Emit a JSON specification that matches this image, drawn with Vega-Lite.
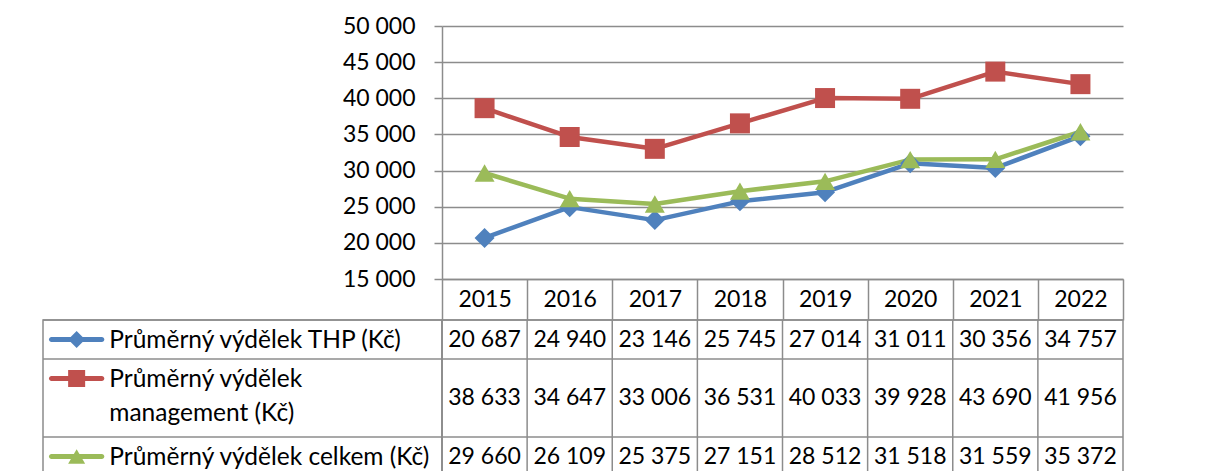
{
  "$schema": "https://vega.github.io/schema/vega-lite/v6.json",
  "padding": {"left": 41, "top": 15, "right": 0, "bottom": 0},
  "config": {
    "font": "Lato",
    "view": {"stroke": null},
    "locale": {"number": {"decimal": ",", "thousands": " ", "grouping": [3], "currency": ["", " Kč"]}},
    "text": {"fontSize": 23, "color": "#000000"}
  },
  "datasets": {
    "d": [
      {"year": 2015, "series": "Průměrný výdělek THP (Kč)", "value": 20687},
      {"year": 2016, "series": "Průměrný výdělek THP (Kč)", "value": 24940},
      {"year": 2017, "series": "Průměrný výdělek THP (Kč)", "value": 23146},
      {"year": 2018, "series": "Průměrný výdělek THP (Kč)", "value": 25745},
      {"year": 2019, "series": "Průměrný výdělek THP (Kč)", "value": 27014},
      {"year": 2020, "series": "Průměrný výdělek THP (Kč)", "value": 31011},
      {"year": 2021, "series": "Průměrný výdělek THP (Kč)", "value": 30356},
      {"year": 2022, "series": "Průměrný výdělek THP (Kč)", "value": 34757},
      {"year": 2015, "series": "Průměrný výdělek management (Kč)", "value": 38633},
      {"year": 2016, "series": "Průměrný výdělek management (Kč)", "value": 34647},
      {"year": 2017, "series": "Průměrný výdělek management (Kč)", "value": 33006},
      {"year": 2018, "series": "Průměrný výdělek management (Kč)", "value": 36531},
      {"year": 2019, "series": "Průměrný výdělek management (Kč)", "value": 40033},
      {"year": 2020, "series": "Průměrný výdělek management (Kč)", "value": 39928},
      {"year": 2021, "series": "Průměrný výdělek management (Kč)", "value": 43690},
      {"year": 2022, "series": "Průměrný výdělek management (Kč)", "value": 41956},
      {"year": 2015, "series": "Průměrný výdělek celkem (Kč)", "value": 29660},
      {"year": 2016, "series": "Průměrný výdělek celkem (Kč)", "value": 26109},
      {"year": 2017, "series": "Průměrný výdělek celkem (Kč)", "value": 25375},
      {"year": 2018, "series": "Průměrný výdělek celkem (Kč)", "value": 27151},
      {"year": 2019, "series": "Průměrný výdělek celkem (Kč)", "value": 28512},
      {"year": 2020, "series": "Průměrný výdělek celkem (Kč)", "value": 31518},
      {"year": 2021, "series": "Průměrný výdělek celkem (Kč)", "value": 31559},
      {"year": 2022, "series": "Průměrný výdělek celkem (Kč)", "value": 35372}
    ],
    "s": [
      {"series": "Průměrný výdělek THP (Kč)", "label": "Průměrný výdělek THP (Kč)"},
      {"series": "Průměrný výdělek management (Kč)", "label": "Průměrný výdělek\nmanagement (Kč)"},
      {"series": "Průměrný výdělek celkem (Kč)", "label": "Průměrný výdělek celkem (Kč)"}
    ]
  },
  "columns": 2,
  "spacing": {"row": 41, "column": 0},
  "bounds": "flush",
  "resolve": {"scale": {"x": "independent", "y": "independent", "color": "independent", "shape": "independent"}},
  "concat": [
    {
      "width": 399, "height": 253,
      "data": {"values": []},
      "mark": {"type": "point"},
      "encoding": {}
    },
    {
      "width": 681, "height": 253,
      "data": {"name": "d"},
      "encoding": {
        "x": {"field": "year", "type": "ordinal", "scale": {"paddingInner": 0, "paddingOuter": 0},
              "axis": {"title": null, "labelAngle": 0, "tickBand": "extent", "tickSize": 41, "tickColor": "#8c8c8c", "tickWidth": 1.5,
                       "domainColor": "#8c8c8c", "domainWidth": 1.5, "labelPadding": -21, "labelBaseline": "middle",
                       "labelFontSize": 23, "labelColor": "#000000", "grid": false}},
        "y": {"field": "value", "type": "quantitative", "scale": {"domain": [15000, 50000], "nice": false, "zero": false},
              "axis": {"title": null, "values": [15000, 20000, 25000, 30000, 35000, 40000, 45000, 50000], "format": ",d",
                       "tickSize": 8, "tickColor": "#8c8c8c", "tickWidth": 1.5, "domainColor": "#8c8c8c", "domainWidth": 1.5,
                       "gridColor": "#8c8c8c", "gridWidth": 1.5, "gridOpacity": 1, "labelFontSize": 23, "labelPadding": 19, "labelColor": "#000000"}},
        "color": {"field": "series", "type": "nominal",
                  "scale": {"domain": ["Průměrný výdělek THP (Kč)", "Průměrný výdělek management (Kč)", "Průměrný výdělek celkem (Kč)"],
                            "range": ["#4F81BD", "#C0504D", "#9BBB59"]}, "legend": null}
      },
      "layer": [
        {"mark": {"type": "line", "strokeWidth": 4.5, "strokeJoin": "round", "strokeCap": "round"}},
        {"mark": {"type": "point", "filled": true, "opacity": 1, "size": 400},
         "encoding": {"shape": {"field": "series", "type": "nominal",
                                "scale": {"domain": ["Průměrný výdělek THP (Kč)", "Průměrný výdělek management (Kč)", "Průměrný výdělek celkem (Kč)"],
                                          "range": ["diamond", "square", "triangle-up"]}, "legend": null}}}
      ]
    },
    {
      "width": 399, "height": 156,
      "view": {"stroke": "#8c8c8c", "strokeWidth": 1.5},
      "data": {"name": "s"},
      "layer": [
        {
          "mark": {"type": "rule", "color": "#8c8c8c", "strokeWidth": 1.5},
          "encoding": {
            "y": {"field": "series", "type": "nominal", "bandPosition": 0,
                  "scale": {"domain": ["Průměrný výdělek THP (Kč)", "Průměrný výdělek management (Kč)", "spacer", "Průměrný výdělek celkem (Kč)"], "paddingInner": 0, "paddingOuter": 0}, "axis": null}
          }
        },
        {
          "mark": {"type": "rect", "height": 5, "cornerRadius": 2.5},
          "encoding": {
            "x": {"datum": "key", "scale": {"domain": ["key", "b1", "b2", "b3", "b4", "b5", "b6"], "paddingInner": 0, "paddingOuter": 0.1085}, "axis": null},
            "y": {"field": "series", "type": "nominal",
                  "scale": {"domain": ["Průměrný výdělek THP (Kč)", "Průměrný výdělek management (Kč)", "spacer", "Průměrný výdělek celkem (Kč)"], "paddingInner": 0, "paddingOuter": 0}, "axis": null},
            "color": {"field": "series", "type": "nominal",
                      "scale": {"domain": ["Průměrný výdělek THP (Kč)", "Průměrný výdělek management (Kč)", "Průměrný výdělek celkem (Kč)"],
                                "range": ["#4F81BD", "#C0504D", "#9BBB59"]}, "legend": null}
          }
        },
        {
          "mark": {"type": "point", "filled": true, "opacity": 1, "size": 290},
          "encoding": {
            "x": {"datum": "key", "scale": {"domain": ["key", "b1", "b2", "b3", "b4", "b5", "b6"], "paddingInner": 0, "paddingOuter": 0.1085}, "axis": null},
            "y": {"field": "series", "type": "nominal",
                  "scale": {"domain": ["Průměrný výdělek THP (Kč)", "Průměrný výdělek management (Kč)", "spacer", "Průměrný výdělek celkem (Kč)"], "paddingInner": 0, "paddingOuter": 0}, "axis": null},
            "color": {"field": "series", "type": "nominal",
                      "scale": {"domain": ["Průměrný výdělek THP (Kč)", "Průměrný výdělek management (Kč)", "Průměrný výdělek celkem (Kč)"],
                                "range": ["#4F81BD", "#C0504D", "#9BBB59"]}, "legend": null},
            "shape": {"field": "series", "type": "nominal",
                      "scale": {"domain": ["Průměrný výdělek THP (Kč)", "Průměrný výdělek management (Kč)", "Průměrný výdělek celkem (Kč)"],
                                "range": ["diamond", "square", "triangle-up"]}, "legend": null}
          }
        },
        {
          "mark": {"type": "text", "align": "left", "baseline": "middle", "dx": 5, "dy": 1, "fontSize": 24.5, "color": "#000000", "lineBreak": "\n", "lineHeight": 34},
          "encoding": {
            "x": {"datum": "b1", "bandPosition": 0, "scale": {"domain": ["key", "b1", "b2", "b3", "b4", "b5", "b6"], "paddingInner": 0, "paddingOuter": 0.1085}, "axis": null},
            "y": {"field": "series", "type": "nominal",
                  "scale": {"domain": ["Průměrný výdělek THP (Kč)", "Průměrný výdělek management (Kč)", "spacer", "Průměrný výdělek celkem (Kč)"], "paddingInner": 0, "paddingOuter": 0}, "axis": null},
            "text": {"field": "label", "type": "nominal"}
          }
        }
      ]
    },
    {
      "width": 681, "height": 156,
      "view": {"stroke": "#8c8c8c", "strokeWidth": 1.5},
      "layer": [
        {
          "data": {"name": "s"},
          "mark": {"type": "rule", "color": "#8c8c8c", "strokeWidth": 1.5},
          "encoding": {
            "y": {"field": "series", "type": "nominal", "bandPosition": 0,
                  "scale": {"domain": ["Průměrný výdělek THP (Kč)", "Průměrný výdělek management (Kč)", "spacer", "Průměrný výdělek celkem (Kč)"], "paddingInner": 0, "paddingOuter": 0}, "axis": null}
          }
        },
        {
          "data": {"name": "d"},
          "transform": [{"filter": "datum.series === 'Průměrný výdělek THP (Kč)'"}],
          "mark": {"type": "rule", "color": "#8c8c8c", "strokeWidth": 1.5},
          "encoding": {
            "x": {"field": "year", "type": "ordinal", "bandPosition": 0, "scale": {"paddingInner": 0, "paddingOuter": 0}, "axis": null}
          }
        },
        {
          "data": {"name": "d"},
          "transform": [{"filter": "datum.series !== 'Průměrný výdělek management (Kč)'"}],
          "mark": {"type": "text", "align": "center", "baseline": "middle", "fontSize": 23, "color": "#000000"},
          "encoding": {
            "x": {"field": "year", "type": "ordinal", "scale": {"paddingInner": 0, "paddingOuter": 0}, "axis": null},
            "y": {"field": "series", "type": "nominal",
                  "scale": {"domain": ["Průměrný výdělek THP (Kč)", "Průměrný výdělek management (Kč)", "spacer", "Průměrný výdělek celkem (Kč)"], "paddingInner": 0, "paddingOuter": 0}, "axis": null},
            "text": {"field": "value", "type": "quantitative", "format": ",d"}
          }
        },
        {
          "data": {"name": "d"},
          "transform": [{"filter": "datum.series === 'Průměrný výdělek management (Kč)'"}],
          "mark": {"type": "text", "align": "center", "baseline": "middle", "fontSize": 23, "color": "#000000"},
          "encoding": {
            "x": {"field": "year", "type": "ordinal", "scale": {"paddingInner": 0, "paddingOuter": 0}, "axis": null},
            "y": {"field": "series", "type": "nominal", "bandPosition": 1,
                  "scale": {"domain": ["Průměrný výdělek THP (Kč)", "Průměrný výdělek management (Kč)", "spacer", "Průměrný výdělek celkem (Kč)"], "paddingInner": 0, "paddingOuter": 0}, "axis": null},
            "text": {"field": "value", "type": "quantitative", "format": ",d"}
          }
        }
      ]
    }
  ]
}
